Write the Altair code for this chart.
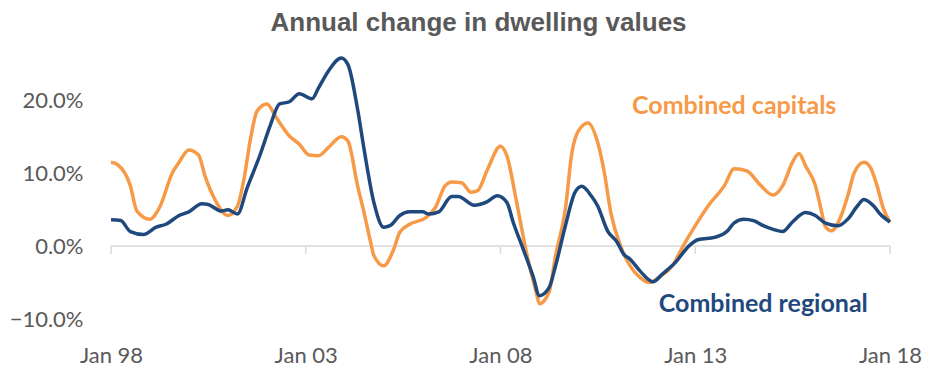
import altair as alt
import pandas as pd

title_text = "Annual change in dwelling values"

cap_months = ["1998-01","1998-03","1998-07","1998-09","1999-01","1999-04","1999-08","1999-10",
              "2000-01","2000-04","2000-06","2000-09","2001-01","2001-04","2001-06","2001-08","2001-10",
              "2002-01","2002-04","2002-08","2002-11","2003-02","2003-05","2003-08","2003-12",
              "2004-02","2004-05","2004-07","2004-09","2004-10","2005-01","2005-04","2005-06","2005-09",
              "2006-02","2006-05","2006-08","2006-10","2007-01","2007-04","2007-06","2007-09",
              "2008-01","2008-03","2008-06","2008-09","2008-12","2009-01","2009-04","2009-06","2009-09","2009-11",
              "2010-01","2010-04","2010-07","2010-09","2010-11","2011-02","2011-05","2011-08","2011-11",
              "2012-02","2012-06","2012-09","2013-01","2013-05","2013-10","2014-01","2014-05","2014-09",
              "2015-01","2015-04","2015-07","2015-09","2015-11","2016-02","2016-04","2016-05","2016-07","2016-10","2016-12",
              "2017-02","2017-05","2017-07","2017-09","2017-11","2018-01"]
cap_values = [11.5, 11.2, 8.3, 4.8, 3.7, 5.3, 10.1, 11.5,
              13.2, 12.5, 9.6, 6.4, 4.2, 5.5, 9.2, 14.7, 18.5,
              19.5, 17.6, 15.1, 14.0, 12.5, 12.4, 13.5, 15.0,
              14.4, 8.3, 4.6, 0.5, -1.3, -2.7, -0.6, 1.9, 3.0,
              3.9, 5.3, 8.3, 8.8, 8.7, 7.4, 7.6, 10.5,
              13.7, 12.4, 6.0, -0.9, -6.3, -7.9, -6.3, -1.3, 5.1, 12.8,
              15.8, 16.9, 14.2, 10.1, 4.6, 0.0, -2.7, -4.3, -5.0,
              -4.2, -2.7, -0.2, 2.8, 5.5, 8.3, 10.6, 10.3, 8.4,
              7.0, 8.3, 11.5, 12.7, 11.0, 8.3, 4.6, 2.8, 2.1, 4.2, 6.9,
              10.1, 11.5, 10.8, 8.3, 5.1, 3.3]

reg_months = ["1998-01","1998-04","1998-07","1998-11","1999-03","1999-06","1999-10",
              "2000-01","2000-05","2000-07","2000-11","2001-01","2001-04","2001-07","2001-11",
              "2002-02","2002-05","2002-08","2002-11","2003-03","2003-05","2003-08","2003-12",
              "2004-02","2004-05","2004-07","2004-10","2005-01","2005-03","2005-06","2005-09",
              "2006-01","2006-03","2006-06","2006-10","2006-12","2007-05","2007-09","2007-12",
              "2008-03","2008-05","2008-08","2008-11","2009-01","2009-04","2009-06","2009-09","2009-12",
              "2010-02","2010-05","2010-07","2010-10","2011-01","2011-03","2011-05","2011-08","2011-12",
              "2012-03","2012-07","2012-11","2013-02","2013-07","2013-11","2014-01","2014-04","2014-07","2014-10",
              "2015-01","2015-04","2015-07","2015-11","2016-02","2016-05","2016-09","2016-12",
              "2017-03","2017-05","2017-08","2017-10","2018-01"]
reg_values = [3.6, 3.5, 2.0, 1.6, 2.6, 3.0, 4.2,
              4.7, 5.8, 5.7, 4.8, 5.0, 4.4, 8.0, 12.6,
              16.5, 19.5, 19.8, 20.9, 20.2, 21.7, 24.0, 25.8,
              24.9, 18.8, 13.3, 6.0, 2.6, 2.8, 4.2, 4.7,
              4.7, 4.4, 4.7, 6.8, 6.8, 5.6, 6.1, 6.9,
              6.0, 3.2, -0.4, -4.1, -6.8, -5.7, -2.7, 2.8, 7.4,
              8.2, 6.9, 5.5, 2.1, 0.5, -1.1, -1.8, -3.4, -4.9,
              -3.8, -2.2, 0.0, 0.9, 1.2, 2.1, 3.2, 3.7, 3.5, 2.8,
              2.3, 2.0, 3.3, 4.6, 4.2, 3.2, 2.8, 3.7,
              5.5, 6.4, 5.5, 4.4, 3.3]

series_names = ["Combined capitals", "Combined regional"]
series_colors = ["#F79A48", "#1F497D"]

tick_years = [1998, 2003, 2008, 2013, 2018]
y_ticks = [-10, 0, 10, 20]
y_domain = [-10, 28]

label_months = ["2014-01", "2014-10"]
label_values = [18.1, -9.0]

tick_len = 1.1  # tick length below the zero line, in % units

assert len(cap_months) == len(cap_values)
assert len(reg_months) == len(reg_values)

df = pd.DataFrame({
    "date": pd.to_datetime(cap_months + reg_months),
    "value": cap_values + reg_values,
    "series": [series_names[0]] * len(cap_months) + [series_names[1]] * len(reg_months),
})

tick_dates = pd.to_datetime([f"{y}-01" for y in tick_years])
zero_df = pd.DataFrame({"date": [tick_dates[0]], "date2": [tick_dates[-1]], "value": [0]})
ticks_df = pd.DataFrame({"date": tick_dates, "y0": [0] * len(tick_dates), "y1": [-tick_len] * len(tick_dates)})
labels_df = pd.DataFrame({"date": pd.to_datetime(label_months), "value": label_values, "series": series_names})

gray = "#595959"
x_dom = [alt.DateTime(year=tick_years[0], month=1, date=1), alt.DateTime(year=tick_years[-1], month=1, date=1)]
x_scale = alt.Scale(domain=x_dom)
y_scale = alt.Scale(domain=y_domain, nice=False, zero=False)
color_scale = alt.Scale(domain=series_names, range=series_colors)

x_axis = alt.Axis(
    values=[alt.DateTime(year=y, month=1, date=1) for y in tick_years],
    format="%b %y", title=None, domain=False, ticks=False, grid=False,
    labelFont="Lato", labelFontSize=22, labelColor=gray,
    labelPadding=43, labelBaseline="alphabetic", labelFlush=False, labelOverlap=False,
)
y_axis = alt.Axis(
    values=y_ticks, labelExpr="format(datum.value, '.1f') + '%'", title=None,
    domain=False, ticks=False, grid=False,
    labelFont="Lato", labelFontSize=22, labelColor=gray, labelPadding=28,
)

zero_line = alt.Chart(zero_df).mark_rule(color="#D9D9D9", strokeWidth=1.5).encode(
    x=alt.X("date:T", scale=x_scale, axis=x_axis), x2="date2:T",
    y=alt.Y("value:Q", scale=y_scale, axis=y_axis),
)
tick_marks = alt.Chart(ticks_df).mark_rule(color="#D9D9D9", strokeWidth=1.5).encode(
    x=alt.X("date:T", scale=x_scale, axis=x_axis),
    y=alt.Y("y0:Q", scale=y_scale, axis=y_axis), y2="y1:Q",
)
lines = alt.Chart(df).mark_line(strokeWidth=3.5, interpolate="monotone").encode(
    x=alt.X("date:T", scale=x_scale, axis=x_axis),
    y=alt.Y("value:Q", scale=y_scale, axis=y_axis),
    color=alt.Color("series:N", scale=color_scale, legend=None),
)
texts = alt.Chart(labels_df).mark_text(
    font="Lato", fontSize=25, fontWeight="bold", align="center", baseline="alphabetic"
).encode(
    x=alt.X("date:T", scale=x_scale, axis=x_axis),
    y=alt.Y("value:Q", scale=y_scale, axis=y_axis),
    text="series:N",
    color=alt.Color("series:N", scale=color_scale, legend=None),
)

chart = alt.layer(zero_line, tick_marks, lines, texts).properties(
    width=779, height=277,
    padding={"left": 103, "top": 34, "right": 37, "bottom": 62},
    autosize=alt.AutoSizeParams(type="none"),
    background="white",
    title=alt.TitleParams(
        text=title_text, font="Liberation Sans", fontSize=26, fontWeight="bold",
        color=gray, anchor="middle", frame="group", dx=-22, offset=6,
    ),
).configure_view(strokeWidth=0, stroke="transparent")

chart.save("out.html", embed_options={"renderer": "svg", "actions": False})
